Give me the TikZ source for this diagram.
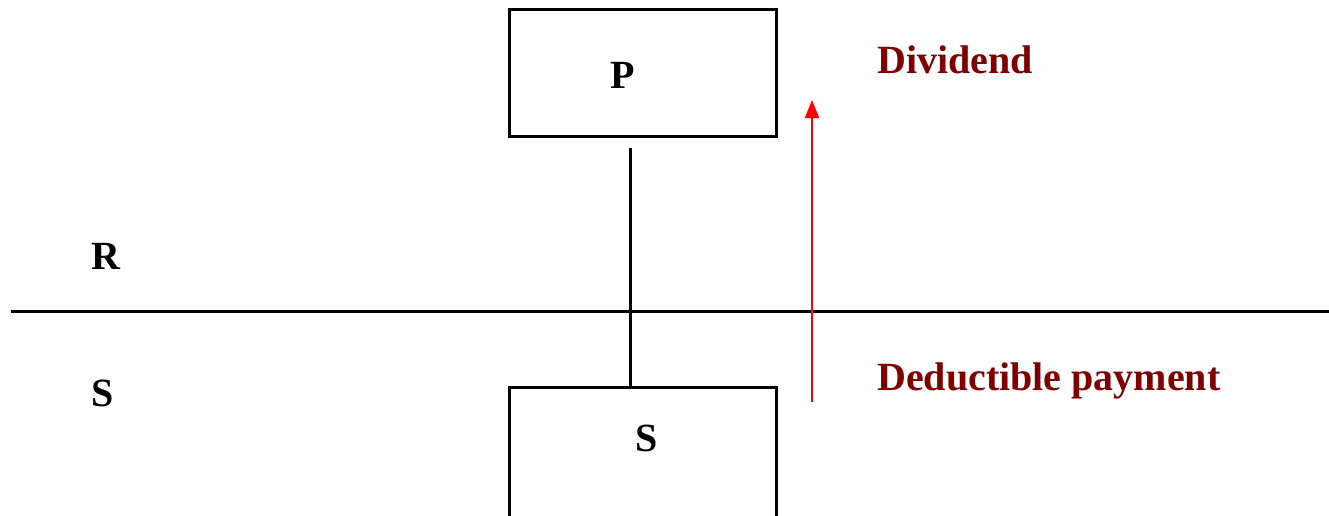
\documentclass[tikz,border=0pt]{standalone}
\usepackage{fontspec}
\setmainfont{Liberation Serif}
\usetikzlibrary{arrows.meta}
\definecolor{labelred}{HTML}{800000}
\begin{document}
\begin{tikzpicture}[x=1pt,y=-1pt,
  entity/.style={draw=black,line width=3pt,minimum width=267pt,inner sep=0pt},
  bigtext/.style={font=\fontsize{40}{48}\selectfont\bfseries,inner sep=0pt,anchor=base west},
  flow/.style={draw=red,line width=2pt,-{Triangle[width=14pt,length=18pt]}}]
\useasboundingbox (0,0) rectangle (1329,515);
% companies
\node[entity,minimum height=127pt] (P) at (642.5,72.5) {};
\node[entity,minimum height=143pt] (S) at (642.5,458.5) {};
\node[bigtext] (Plabel) at (610,88) {P};
\node[bigtext] (Slabel) at (635,451) {S};
% ownership link
\draw[line width=3pt] ([xshift=-12.5pt,yshift=-10pt]P.south) -- ([xshift=-12.5pt]S.north);
% border between the two countries
\coordinate (bl) at (11,311);
\coordinate (br) at (1329,311);
\draw[line width=3pt] (bl) -- (br);
\node[bigtext] (R) at (91,269) {R};
\node[bigtext] (Sc) at (91,406) {S};
% payment flow
\coordinate (fs) at (812,402);
\coordinate (fe) at (812,100);
\draw[flow] (fs) -- (fe);
\node[bigtext,text=labelred] (div) at (877,73) {Dividend};
\node[bigtext,text=labelred] (ded) at (877,390) {Deductible payment};
\end{tikzpicture}
\end{document}
